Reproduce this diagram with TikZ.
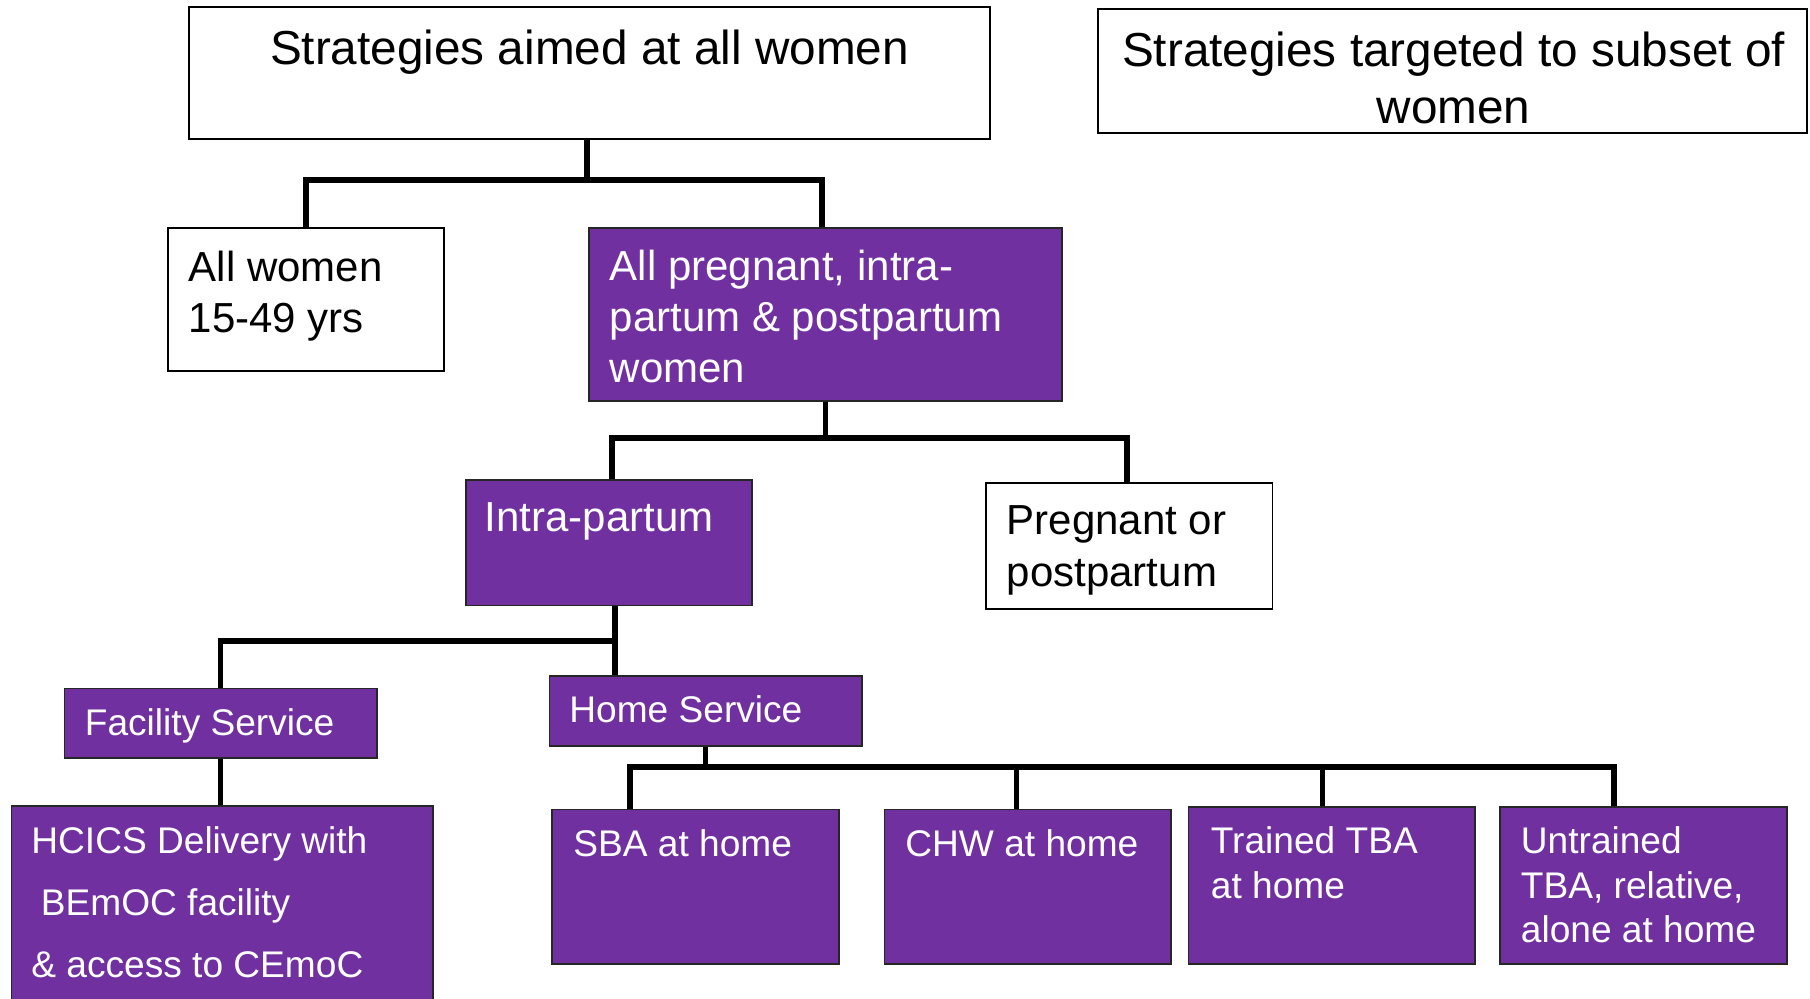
\documentclass[tikz,border=0pt]{standalone}
\usepackage{fontspec}
\setmainfont{Liberation Sans}
\usetikzlibrary{fit}
\definecolor{boxpurple}{RGB}{112,48,160}
\begin{document}
\begin{tikzpicture}[x=0.5pt,y=-0.5pt,
  box/.style={draw=black,line width=0.8pt,inner sep=0pt},
  wbox/.style={box,fill=white},
  pbox/.style={box,fill=boxpurple,draw=black!85},
  conn/.style={draw=black,line width=2.6pt,line join=miter},
  big/.style={font=\fontsize{23.85pt}{28pt}\selectfont,inner sep=0pt},
  mid/.style={font=\fontsize{21pt}{25pt}\selectfont,inner sep=0pt},
  sml/.style={font=\fontsize{18.55pt}{22pt}\selectfont,inner sep=0pt},
  wt/.style={text=white},
  lt/.style={anchor=base west}]
\clip (0,0) rectangle (1810,999);
\fill[white] (0,0) rectangle (1810,999);

% boxes
\node[wbox,fit={(189,7)(990,139)}] (top) {};
\node[wbox,line width=1.3pt,fit={(1098,9)(1807,133)}] (sub) {};
\node[wbox,fit={(168,228)(444,371)}] (allw) {};
\node[pbox,fit={(589,228)(1062,401)}] (allp) {};
\node[pbox,fit={(466,480)(752,605.5)}] (intra) {};
\node[wbox,fit={(986,483)(1272.5,609)}] (preg) {};
\node[pbox,fit={(64.3,688.5)(377,758)}] (fac) {};
\node[pbox,fit={(549.4,676)(862,745.7)}] (home) {};
\node[pbox,fit={(11.5,806)(433,1006)}] (hcics) {};
\node[pbox,fit={(552,809.6)(838.7,964)}] (sba) {};
\node[pbox,fit={(884.3,809.6)(1171,964)}] (chw) {};
\node[pbox,fit={(1188.6,807)(1475,964)}] (tr) {};
\node[pbox,fit={(1499.7,807)(1787,964)}] (un) {};

% texts
\node[big,anchor=base] (t1) at (589.5,65) {Strategies aimed at all women};
\node[big,anchor=base] (t2a) at (1453.5,66.5) {Strategies targeted to subset of};
\node[big,anchor=base] (t2b) at (1453.5,124) {women};
\node[mid,lt] (t3a) at (188.5,281.5) {All women};
\node[mid,lt] (t3b) at (188.5,332.5) {15-49 yrs};
\node[mid,lt,wt] (t4a) at (609.5,280.5) {All pregnant, intra-};
\node[mid,lt,wt] (t4b) at (609.5,331.5) {partum \& postpartum};
\node[mid,lt,wt] (t4c) at (609.5,382.5) {women};
\node[mid,lt,wt] (t5) at (484.5,531.5) {Intra-partum};
\node[mid,lt] (t6a) at (1006.5,534.5) {Pregnant or};
\node[mid,lt] (t6b) at (1006.5,586.5) {postpartum};
\node[sml,lt,wt] (t7) at (84.5,735.5) {Facility Service};
\node[sml,lt,wt] (t8) at (569,722.5) {Home Service};
\node[sml,lt,wt] (t9a) at (31,853.5) {HCICS Delivery with};
\node[sml,lt,wt] (t9b) at (40.5,915) {BEmOC facility};
\node[sml,lt,wt] (t9c) at (31,977) {\& access to CEmoC};
\node[sml,lt,wt] (t10) at (573,856.5) {SBA at home};
\node[sml,lt,wt] (t11) at (905,856.5) {CHW at home};
\node[sml,lt,wt] (t12a) at (1210.5,853.5) {Trained TBA};
\node[sml,lt,wt] (t12b) at (1210.5,898) {at home};
\node[sml,lt,wt] (t13a) at (1520.5,853.5) {Untrained};
\node[sml,lt,wt] (t13b) at (1520.5,898) {TBA, relative,};
\node[sml,lt,wt] (t13c) at (1520.5,942) {alone at home};

% branching points
\coordinate (j1) at (587,180);
\coordinate (c1a) at (306,180);
\coordinate (c1b) at (822,180);
\coordinate (c2m) at (825.5,438);
\coordinate (c2a) at (612,438);
\coordinate (c2b) at (1127,438);
\coordinate (c3m) at (615,641);
\coordinate (c3a) at (220.5,641);
\coordinate (c4m) at (705.5,767);
\coordinate (d1) at (630,767);
\coordinate (d2) at (1016.6,767);
\coordinate (d3) at (1322.7,767);
\coordinate (d4) at (1614,767);

% connectors
\draw[conn] (top.south -| j1) -- (j1);
\draw[conn] (allw.north -| c1a) -- (c1a) -- (c1b) -- (allp.north -| c1b);
\draw[conn] (allp.south -| c2m) -- (c2m);
\draw[conn] (intra.north -| c2a) -- (c2a) -- (c2b) -- (preg.north -| c2b);
\draw[conn] (intra.south -| c3m) -- (home.north -| c3m);
\draw[conn] (fac.north -| c3a) -- (c3a) -- (c3m);
\draw[conn] (fac.south -| c3a) -- (hcics.north -| c3a);
\draw[conn] (home.south -| c4m) -- (c4m);
\draw[conn] (sba.north -| d1) -- (d1) -- (d4) -- (un.north -| d4);
\draw[conn] (d2) -- (chw.north -| d2);
\draw[conn] (d3) -- (tr.north -| d3);
\end{tikzpicture}
\end{document}
